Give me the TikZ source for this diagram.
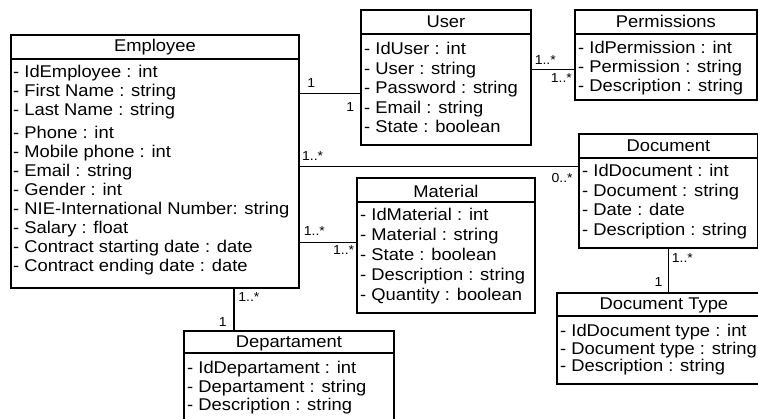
\documentclass[tikz,border=0pt]{standalone}
\usepackage{fontspec}
\setmainfont[FakeStretch=1.08]{Liberation Sans}

\tikzset{
  classbox/.style={draw, line width=1.8pt, anchor=north west, inner sep=0pt},
  headline/.style={line width=1.6pt},
  classname/.style={font=\fontsize{17}{19}\selectfont, inner sep=0pt},
  attrlist/.style={font=\fontsize{17}{#1}\selectfont, align=left, anchor=north west, inner sep=0pt},
  assoc/.style={line width=1.2pt},
  mult/.style={font=\fontsize{13}{13}\selectfont, inner sep=0pt},
}

\begin{document}
\begin{tikzpicture}[x=1pt,y=-1pt]
\useasboundingbox (0,0) rectangle (758,419);

% classes
\node[classbox, minimum width=288pt, minimum height=253pt] (employee) at (10,34) {};
\draw[headline] ([yshift=-25pt]employee.north west) -- ([yshift=-25pt]employee.north east);
\node[classname] (employee-name) at ([yshift=-13pt]employee.north) {Employee};
\node[attrlist=19pt] (employee-attr) at ([xshift=3pt,yshift=-30.7pt]employee.north west) {- IdEmployee : int\\ - First Name : string\\ - Last Name : string\\[4pt] - Phone : int\\ - Mobile phone : int\\ - Email : string\\ - Gender : int\\ - NIE-International Number: string\\ - Salary : float\\ - Contract starting date : date\\ - Contract ending date : date};

\node[classbox, minimum width=170pt, minimum height=135pt] (user) at (360,9) {};
\draw[headline] ([yshift=-25pt]user.north west) -- ([yshift=-25pt]user.north east);
\node[classname] (user-name) at ([yshift=-13pt]user.north) {User};
\node[attrlist=19.5pt] (user-attr) at ([xshift=4pt,yshift=-33pt]user.north west) {- IdUser : int\\ - User : string\\ - Password : string\\ - Email : string\\ - State : boolean};

\node[classbox, minimum width=182pt, minimum height=90pt] (permissions) at (574,9) {};
\draw[headline] ([yshift=-25pt]permissions.north west) -- ([yshift=-25pt]permissions.north east);
\node[classname] (permissions-name) at ([yshift=-12.5pt]permissions.north) {Permissions};
\node[attrlist=19pt] (permissions-attr) at ([xshift=4pt,yshift=-32.3pt]permissions.north west) {- IdPermission : int\\ - Permission : string\\ - Description : string};

\node[classbox, minimum width=179pt, minimum height=114pt] (document) at (578,133) {};
\draw[headline] ([yshift=-25pt]document.north west) -- ([yshift=-25pt]document.north east);
\node[classname] (document-name) at ([yshift=-13pt]document.north) {Document};
\node[attrlist=19.5pt] (document-attr) at ([xshift=4pt,yshift=-31.3pt]document.north west) {- IdDocument : int\\ - Document : string\\ - Date : date\\ - Description : string};

\node[classbox, minimum width=178pt, minimum height=135pt] (material) at (356,177) {};
\draw[headline] ([yshift=-25pt]material.north west) -- ([yshift=-25pt]material.north east);
\node[classname] (material-name) at ([yshift=-14pt]material.north) {Material};
\node[attrlist=20pt] (material-attr) at ([xshift=4pt,yshift=-31pt]material.north west) {- IdMaterial : int\\ - Material : string\\ - State : boolean\\ - Description : string\\ - Quantity : boolean};

\node[classbox, minimum width=214pt, minimum height=91pt] (doctype) at (556,292) {};
\draw[headline] ([yshift=-24pt]doctype.north west) -- ([yshift=-24pt]doctype.north east);
\node[classname] (doctype-name) at ([yshift=-13pt]doctype.north) {Document Type};
\node[attrlist=17.8pt] (doctype-attr) at ([xshift=4pt,yshift=-31.7pt]doctype.north west) {- IdDocument type : int\\ - Document type : string\\ - Description : string};

\node[classbox, minimum width=210pt, minimum height=100pt] (departament) at (183,330) {};
\draw[headline] ([yshift=-23pt]departament.north west) -- ([yshift=-23pt]departament.north east);
\node[classname] (departament-name) at ([yshift=-13pt]departament.north) {Departament};
\node[attrlist=18.3pt] (departament-attr) at ([xshift=4pt,yshift=-31.3pt]departament.north west) {- IdDepartament : int\\ - Departament : string\\ - Description : string};

% associations
\draw[assoc] ([yshift=-16.5pt]user.west -| employee.east) -- ([yshift=-16.5pt]user.west)
  node[mult, pos=0.19, yshift=11pt] (m-eu1) {1}
  node[mult, pos=0.84, yshift=-13pt] (m-eu2) {1};
\draw[assoc] ([yshift=-15pt]permissions.west -| user.east) -- ([yshift=-15pt]permissions.west)
  node[mult, pos=0.32, yshift=10pt] (m-up1) {1..*}
  node[mult, pos=0.70, yshift=-8pt] (m-up2) {1..*};
\draw[assoc] ([yshift=24pt]document.west -| employee.east) -- ([yshift=24pt]document.west)
  node[mult, pos=0.046, yshift=11pt] (m-ed1) {1..*}
  node[mult, pos=0.943, yshift=-11pt] (m-ed2) {0..*};
\draw[assoc] ([yshift=2.5pt]material.west -| employee.east) -- ([yshift=2.5pt]material.west)
  node[mult, pos=0.26, yshift=12pt] (m-em1) {1..*}
  node[mult, pos=0.78, yshift=-7pt] (m-em2) {1..*};
\draw[assoc] (document.south) -- (document.south |- doctype.north)
  node[mult, pos=0.22, xshift=14pt] (m-dt1) {1..*}
  node[mult, pos=0.78, xshift=-10pt] (m-dt2) {1};
\draw[assoc] ([xshift=-55pt]departament.north |- employee.south) -- ([xshift=-55pt]departament.north)
  node[mult, pos=0.19, xshift=15pt] (m-ea1) {1..*}
  node[mult, pos=0.81, xshift=-11pt] (m-ea2) {1};
\end{tikzpicture}
\end{document}
